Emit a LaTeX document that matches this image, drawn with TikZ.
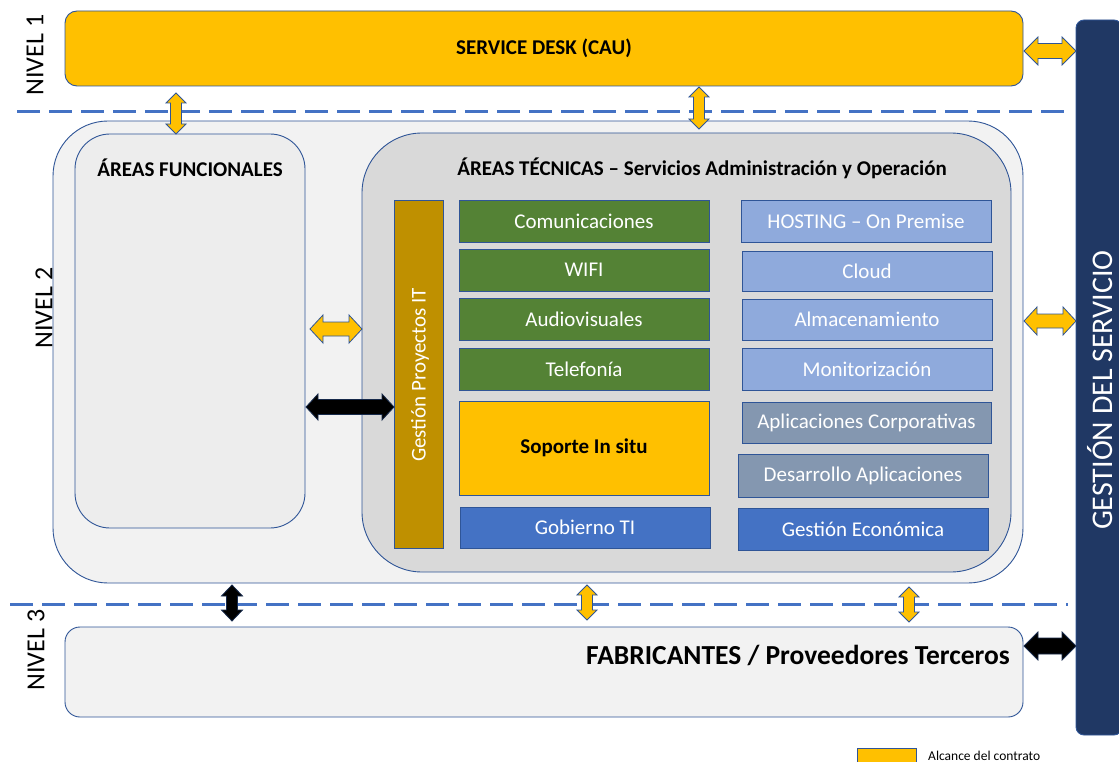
\documentclass[tikz,border=0pt]{standalone}
\usepackage{fontspec}
\setmainfont{Carlito}
\usetikzlibrary{calc}
\definecolor{cyel}{HTML}{FFC000}
\definecolor{cbord}{HTML}{2F5597}
\definecolor{cdash}{HTML}{4472C4}
\definecolor{cgreen}{HTML}{548235}
\definecolor{clblue}{HTML}{8FAADC}
\definecolor{cgblue}{HTML}{8497B0}
\definecolor{cblue}{HTML}{4472C4}
\definecolor{cgold}{HTML}{BF9000}
\definecolor{cnavy}{HTML}{203864}
\definecolor{cpale}{HTML}{F2F2F2}
\definecolor{cpale2}{HTML}{EDEDED}
\definecolor{cmid}{HTML}{D9D9D9}
\newcommand\hdblarrow[6]{% style, left, right, headhalf, shafthalf, headlen
  \draw[#1] let \p1=#2, \p2=#3 in
    (\x1,\y1) -- ({\x1+#6pt},{\y1+#4pt}) -- ({\x1+#6pt},{\y1+#5pt})
    -- ({\x2-#6pt},{\y1+#5pt}) -- ({\x2-#6pt},{\y1+#4pt}) -- (\x2,\y1)
    -- ({\x2-#6pt},{\y1-#4pt}) -- ({\x2-#6pt},{\y1-#5pt})
    -- ({\x1+#6pt},{\y1-#5pt}) -- ({\x1+#6pt},{\y1-#4pt}) -- cycle;}
\newcommand\vdblarrow[6]{% style, top, bottom, headhalf, shafthalf, headlen
  \draw[#1] let \p1=#2, \p2=#3 in
    (\x1,\y1) -- ({\x1+#4pt},{\y1-#6pt}) -- ({\x1+#5pt},{\y1-#6pt})
    -- ({\x1+#5pt},{\y2+#6pt}) -- ({\x1+#4pt},{\y2+#6pt}) -- (\x1,\y2)
    -- ({\x1-#4pt},{\y2+#6pt}) -- ({\x1-#5pt},{\y2+#6pt})
    -- ({\x1-#5pt},{\y1-#6pt}) -- ({\x1-#4pt},{\y1-#6pt}) -- cycle;}
\begin{document}
\begin{tikzpicture}[x=1pt,y=-1pt,
  bx/.style={draw=cbord, line width=0.9pt, inner sep=0pt, outer sep=0pt},
  svc/.style={bx, minimum width=250, minimum height=42, text=white, font=\fontsize{21}{25}\selectfont},
  ttl/.style={font=\bfseries\fontsize{21}{25}\selectfont, inner sep=0pt},
  nivel/.style={rotate=90, font=\fontsize{26}{30}\selectfont, inner sep=0pt},
  yarr/.style={fill=cyel, draw=cbord, line width=0.8pt},
  karr/.style={fill=black, draw=cbord!50!black, line width=0.8pt},
  dashln/.style={draw=cdash, line width=3pt, dash pattern=on 23pt off 9pt}]
\useasboundingbox[fill=white] (0,0) rectangle (1119,762);

% level separators
\draw[dashln] (17,112) -- (1070,112);
\draw[dashln] (10,604) -- (1068,604);

% right bar
\node[bx, fill=cnavy, rounded corners=8, minimum width=46, minimum height=715] (gs) at (1099,377.5) {};
\node[rotate=90, text=white, font=\fontsize{30}{34}\selectfont, inner sep=0pt] (gst) at (1100,390) {GESTIÓN DEL SERVICIO};

% level 1
\node[bx, fill=cyel, rounded corners=12, minimum width=958, minimum height=75] (sd) at (544,48.5) {};
\node[ttl] (sdt) at (544,48.5) {SERVICE DESK (CAU)};

% level 2
\node[bx, fill=cpale, rounded corners=55, minimum width=970, minimum height=462] (n2) at (538,352) {};
\node[bx, fill=cpale2, rounded corners=35, minimum width=230, minimum height=394] (af) at (190,331) {};
\node[ttl] (aft) at (190,168) {ÁREAS FUNCIONALES};
\node[bx, fill=cmid, rounded corners=60, minimum width=649, minimum height=439] (at) at (686.5,352.5) {};
\node[ttl] (att) at (702,168) {ÁREAS TÉCNICAS – Servicios Administración y Operación};

\node[bx, fill=cgold, minimum width=49, minimum height=348] (gp) at (418.5,374) {};
\node[rotate=90, text=white, font=\fontsize{21}{25}\selectfont, inner sep=0pt] (gpt) at (420,375) {Gestión Proyectos IT};

\node[svc, fill=cgreen] (com) at (584,221) {Comunicaciones};
\node[svc, fill=cgreen] (wifi) at (584,270) {WIFI};
\node[svc, fill=cgreen] (aud) at (584,319.5) {Audiovisuales};
\node[svc, fill=cgreen] (tel) at (584,369) {Telefonía};
\node[svc, fill=cyel, minimum height=94, text=black, font=\bfseries\fontsize{21}{25}\selectfont] (sop) at (584,448) {Soporte In situ};
\node[svc, fill=cblue, minimum height=41] (gob) at (585,527.5) {Gobierno TI};

\node[svc, fill=clblue] (host) at (866,221) {HOSTING – On Premise};
\node[svc, fill=clblue, minimum height=40] (cloud) at (867,271) {Cloud};
\node[svc, fill=clblue, minimum height=41] (alm) at (867,319.5) {Almacenamiento};
\node[svc, fill=clblue] (mon) at (867,369) {Monitorización};
\node[svc, fill=cgblue, minimum width=249, minimum height=41] (apc) at (866.5,422.5) {Aplicaciones Corporativas};
\node[svc, fill=cgblue, minimum height=43] (des) at (863,475.5) {Desarrollo Aplicaciones};
\node[svc, fill=cblue] (gec) at (863,529) {Gestión Económica};

% level 3
\node[bx, fill=cpale, rounded corners=15, minimum width=958, minimum height=90] (fab) at (544,672) {};
\node[font=\bfseries\fontsize{27.5}{32}\selectfont, inner sep=0pt, anchor=east] (fabt) at (1010,655) {FABRICANTES / Proveedores Terceros};

% level labels
\node[nivel] (nv1) at (35,55) {NIVEL 1};
\node[nivel] (nv2) at (44,308) {NIVEL 2};
\node[nivel] (nv3) at (36,650) {NIVEL 3};

% arrow end points
\coordinate (a1t) at (176,93);   \coordinate (a1b) at (176,134);
\coordinate (a2t) at (699,87);   \coordinate (a2b) at (699,129);
\coordinate (a3l) at (1024,51);  \coordinate (a3r) at (1076,51);
\coordinate (a4l) at (310,329);  \coordinate (a4r) at (362,329);
\coordinate (a5l) at (306,407);  \coordinate (a5r) at (394,407);
\coordinate (a6l) at (1024,321); \coordinate (a6r) at (1076,321);
\coordinate (a7t) at (232,585);  \coordinate (a7b) at (232,621);
\coordinate (a8t) at (587,585);  \coordinate (a8b) at (587,620);
\coordinate (a9t) at (909,587);  \coordinate (a9b) at (909,622);
\coordinate (a10l) at (1024,646); \coordinate (a10r) at (1076,646);

\vdblarrow{yarr}{(a1t)}{(a1b)}{10}{5.5}{10}
\vdblarrow{yarr}{(a2t)}{(a2b)}{10}{5.5}{10}
\hdblarrow{yarr}{(a3l)}{(a3r)}{14}{7.5}{14}
\hdblarrow{yarr}{(a4l)}{(a4r)}{14}{7}{13}
\hdblarrow{karr}{(a5l)}{(a5r)}{13}{7.5}{12}
\hdblarrow{yarr}{(a6l)}{(a6r)}{14}{7}{13}
\vdblarrow{karr}{(a7t)}{(a7b)}{10.5}{5.5}{11}
\vdblarrow{yarr}{(a8t)}{(a8b)}{10}{5.5}{10}
\vdblarrow{yarr}{(a9t)}{(a9b)}{10}{5.5}{10}
\hdblarrow{karr}{(a10l)}{(a10r)}{14}{8}{14}

% legend
\node[bx, fill=cyel, minimum width=59, minimum height=22, anchor=north west] (lg) at (857,748) {};
\node[font=\fontsize{13.5}{16}\selectfont, inner sep=0pt, anchor=west] (lgt) at (928,756) {Alcance del contrato};
\end{tikzpicture}
\end{document}
